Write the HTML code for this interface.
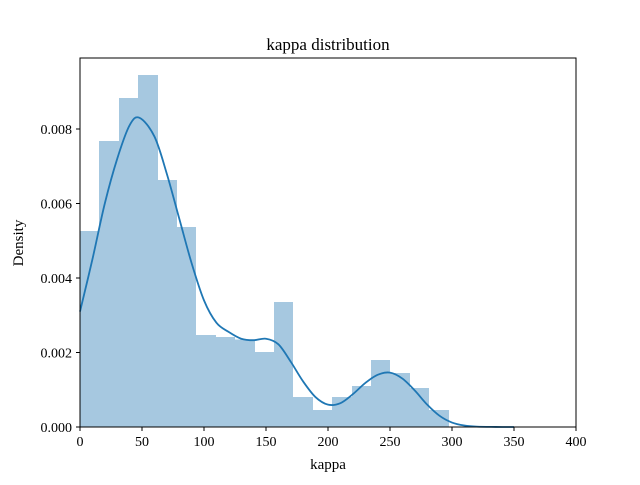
<!DOCTYPE html>
<html><head><meta charset="utf-8"><style>
body{margin:0;background:#fff}
svg text{font-family:"Liberation Serif",serif;fill:#000}
</style></head><body>
<svg width="640" height="480">
<rect width="640" height="480" fill="#fff"/>
<g id="bars" shape-rendering="crispEdges"></g>
<path id="kde" fill="none" stroke="#1f77b4" stroke-width="1.8"/>
<rect x="80" y="58" width="496" height="369" fill="none" stroke="#000" stroke-width="1"/>
<g id="ticks"></g>
<text x="328" y="50" font-size="17" text-anchor="middle">kappa distribution</text>
<text x="328" y="469" font-size="15" text-anchor="middle">kappa</text>
<text transform="translate(23,243) rotate(-90)" font-size="15" text-anchor="middle">Density</text>
</svg>
<script>
const binStart = 0;
const binWidth = 15.65;
const binHeights = [0.00526,0.00768,0.00883,0.00945,0.00663,0.00537,0.00247,0.00242,0.00235,0.00201,0.00336,0.00081,0.00046,0.00081,0.00110,0.00180,0.00145,0.00105,0.00046];
const kdeX = [0,10,20,30,40,48,60,70,80,90,100,110,120,130,140,150,160,170,180,190,200,210,220,230,240,250,260,270,280,290,300,310,320,335,350];
const kdeY = [0.0031,0.0045,0.0060,0.0072,0.0081,0.0083,0.0078,0.0068,0.0056,0.0044,0.0034,0.0028,0.00255,0.00237,0.00233,0.00237,0.00222,0.00175,0.00122,0.0008,0.0006,0.00064,0.00088,0.00118,0.0014,0.00146,0.0013,0.00098,0.0006,0.0003,0.00012,0.00004,0.00001,0.000002,0];
const xTicks = [0,50,100,150,200,250,300,350,400];
const yTicks = [0,0.002,0.004,0.006,0.008];
const yTickLabels = ["0.000","0.002","0.004","0.006","0.008"];

const X = v => 80 + v * 496 / 400;
const Y = v => 427 - v * 37250;
const NS = "http://www.w3.org/2000/svg";
const bars = document.getElementById('bars');
binHeights.forEach((h, i) => {
  const r = document.createElementNS(NS, 'rect');
  const x0 = Math.round(X(binStart + i * binWidth)), x1 = Math.round(X(binStart + (i + 1) * binWidth));
  r.setAttribute('x', x0); r.setAttribute('width', x1 - x0);
  r.setAttribute('y', Y(h)); r.setAttribute('height', Y(0) - Y(h));
  r.setAttribute('fill', '#a6c8e0');
  
  
  bars.appendChild(r);
});
const pts = kdeX.map((x, i) => [X(x), Y(kdeY[i])]);
let d = `M${pts[0][0]},${pts[0][1]}`;
for (let i = 0; i < pts.length - 1; i++) {
  const p0 = pts[Math.max(0, i - 1)], p1 = pts[i], p2 = pts[i + 1], p3 = pts[Math.min(pts.length - 1, i + 2)];
  const c1 = [p1[0] + (p2[0] - p0[0]) / 6, p1[1] + (p2[1] - p0[1]) / 6];
  const c2 = [p2[0] - (p3[0] - p1[0]) / 6, p2[1] - (p3[1] - p1[1]) / 6];
  d += ` C${c1[0]},${c1[1]} ${c2[0]},${c2[1]} ${p2[0]},${p2[1]}`;
}
document.getElementById('kde').setAttribute('d', d);
const tg = document.getElementById('ticks');
xTicks.forEach(t => {
  const l = document.createElementNS(NS, 'line');
  l.setAttribute('x1', X(t)); l.setAttribute('x2', X(t)); l.setAttribute('y1', 427); l.setAttribute('y2', 431);
  l.setAttribute('stroke', '#000');
  
  
  tg.appendChild(l);
  const tx = document.createElementNS(NS, 'text');
  tx.setAttribute('x', X(t)); tx.setAttribute('y', 446); tx.setAttribute('font-size', '14'); tx.setAttribute('text-anchor', 'middle');
  tx.textContent = t;
  
  
  tg.appendChild(tx);
});
yTicks.forEach((t, i) => {
  const l = document.createElementNS(NS, 'line');
  l.setAttribute('x1', 76); l.setAttribute('x2', 80); l.setAttribute('y1', Y(t)); l.setAttribute('y2', Y(t));
  l.setAttribute('stroke', '#000');
  
  
  tg.appendChild(l);
  const tx = document.createElementNS(NS, 'text');
  tx.setAttribute('x', 72); tx.setAttribute('y', Y(t) + 5); tx.setAttribute('font-size', '14'); tx.setAttribute('text-anchor', 'end');
  tx.textContent = yTickLabels[i];
  
  
  tg.appendChild(tx);
});
</script>
</body></html>
